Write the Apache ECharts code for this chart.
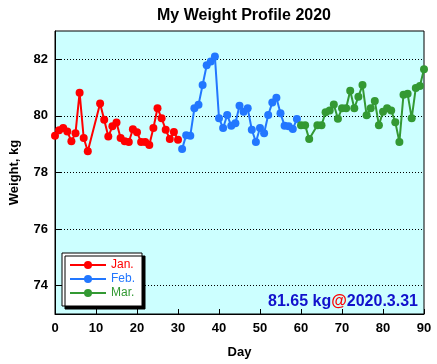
<!DOCTYPE html>
<html>
<head>
<meta charset="utf-8">
<script src="https://cdn.jsdelivr.net/npm/echarts@6/dist/echarts.min.js"></script>
<style>
html,body{margin:0;padding:0;background:#fff;}
#chart{width:437px;height:364px;}
</style>
</head>
<body>
<div id="chart"></div>
<script>
var seriesNames = ['Jan.', 'Feb.', 'Mar.'];
var seriesColors = ['#ff0000', '#2277ff', '#339933'];

var janDays = [0,1,2,3,4,5,6,7,8,11,12,13,14,15,16,17,18,19,20,21,22,23,24,25,26,27,28,29,30];
var janWeights = [79.30,79.49,79.57,79.45,79.10,79.39,80.82,79.22,78.75,80.44,79.86,79.27,79.63,79.77,79.22,79.10,79.08,79.53,79.42,79.08,79.08,78.97,79.57,80.27,79.92,79.51,79.18,79.43,79.16];

var febDays = [31,32,33,34,35,36,37,38,39,40,41,42,43,44,45,46,47,48,49,50,51,52,53,54,55,56,57,58,59];
var febWeights = [78.83,79.32,79.30,80.27,80.39,81.09,81.79,81.92,82.10,79.92,79.57,80.03,79.65,79.74,80.36,80.15,80.27,79.51,79.08,79.57,79.39,80.03,80.47,80.64,80.09,79.65,79.63,79.54,79.89];

var marDays = [60,61,62,64,65,66,67,68,69,70,71,72,73,74,75,76,77,78,79,80,81,82,83,84,85,86,87,88,89,90];
var marWeights = [79.67,79.67,79.18,79.67,79.67,80.13,80.19,80.40,79.90,80.27,80.27,80.89,80.27,80.68,81.09,80.02,80.27,80.53,79.67,80.15,80.27,80.19,79.78,79.08,80.75,80.78,79.92,80.99,81.06,81.65];

var xTicks = [0,10,20,30,40,50,60,70,80,90];
var yTickLabels = [74,76,78,80,82];
var latestDate = '2020.3.31';

function zip(d, w) { return d.map(function (x, i) { return [x, w[i]]; }); }
var allData = [zip(janDays, janWeights), zip(febDays, febWeights), zip(marDays, marWeights)];
var latestWeight = marWeights[marWeights.length - 1];

var FONT = "'Liberation Sans', Arial, Helvetica, sans-serif";

var chart = echarts.init(document.getElementById('chart'), null, {renderer: 'canvas'});
var option = {
  animation: false,
  backgroundColor: '#ffffff',
  title: {
    text: 'My Weight Profile 2020',
    left: 239, top: 3, textAlign: 'center',
    textStyle: {fontFamily: FONT, fontWeight: 'bold', fontSize: 16, color: '#000'}
  },
  grid: {
    left: 55, right: 13, top: 31, bottom: 50,
    outerBoundsMode: 'none', containLabel: false,
    show: true, backgroundColor: '#ccffff', borderColor: '#000', borderWidth: 1
  },
  legend: {
    left: 62, top: 253, orient: 'vertical',
    backgroundColor: '#ffffff', borderColor: '#000', borderWidth: 1,
    shadowColor: '#000', shadowOffsetX: 3, shadowOffsetY: 3, shadowBlur: 0,
    padding: [6, 7, 7, 7], itemWidth: 36, itemHeight: 10, itemGap: 2,
    textStyle: {fontFamily: FONT, fontSize: 12},
    data: seriesNames.map(function (n, i) { return {name: n, textStyle: {color: seriesColors[i]}}; })
  },
  xAxis: {
    type: 'value', min: xTicks[0], max: xTicks[xTicks.length - 1], interval: 10,
    name: 'Day', nameLocation: 'middle', nameGap: 32,
    nameTextStyle: {fontFamily: FONT, fontWeight: 'bold', fontSize: 13, color: '#000'},
    axisLine: {show: true, lineStyle: {color: '#000', width: 1}},
    axisTick: {show: true, inside: true, length: 5, lineStyle: {color: '#000'}},
    axisLabel: {fontFamily: FONT, fontWeight: 'bold', fontSize: 13, color: '#000', margin: 8},
    splitLine: {show: false}
  },
  yAxis: {
    type: 'value', min: 73, max: 83, interval: 1,
    name: 'Weight, kg', nameLocation: 'middle', nameGap: 34,
    nameTextStyle: {fontFamily: FONT, fontWeight: 'bold', fontSize: 13, color: '#000'},
    axisLine: {show: true, lineStyle: {color: '#000', width: 1}},
    axisTick: {show: true, inside: true, length: 7, lineStyle: {color: '#000'}, customValues: yTickLabels},
    axisLabel: {fontFamily: FONT, fontWeight: 'bold', fontSize: 13, color: '#000', margin: 7, customValues: yTickLabels},
    splitLine: {show: true, lineStyle: {color: '#000', width: 1, type: [1, 2]}}
  },
  graphic: [{
    type: 'text', x: 418, y: 302, z: 100,
    style: {
      text: '{a|' + latestWeight.toFixed(2) + ' kg}{b|@}{a|' + latestDate + '}',
      align: 'right', verticalAlign: 'middle',
      rich: {
        a: {fontFamily: FONT, fontWeight: 'bold', fontSize: 16, fill: '#1111cc'},
        b: {fontFamily: FONT, fontWeight: 'bold', fontSize: 16, fill: '#ff0000'}
      }
    }
  }],
  series: seriesNames.map(function (n, i) {
    return {
      name: n, type: 'line', data: allData[i],
      symbol: 'circle', symbolSize: 8,
      itemStyle: {color: seriesColors[i], borderWidth: 0},
      lineStyle: {color: seriesColors[i], width: 2},
      emphasis: {disabled: true}
    };
  })
};
chart.setOption(option);
</script>
</body>
</html>
